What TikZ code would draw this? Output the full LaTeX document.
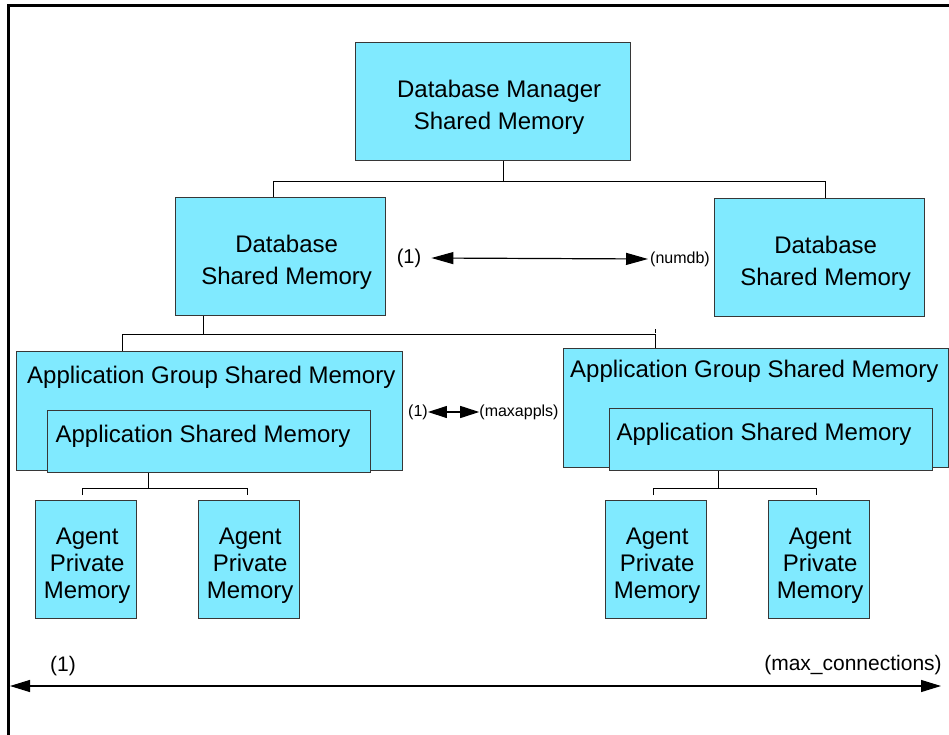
\documentclass[tikz,border=0pt]{standalone}
\usepackage{fontspec}
\setmainfont{Liberation Sans}
\usetikzlibrary{arrows.meta}
\definecolor{memfill}{RGB}{128,234,255}
\definecolor{edgegray}{RGB}{55,55,55}

\begin{document}
\begin{tikzpicture}[x=1pt,y=-1pt,
  membox/.style={draw=edgegray, line width=1.3pt, fill=memfill, inner sep=0pt,
    anchor=north west},
  agentbox/.style={membox, minimum width=101pt, minimum height=118pt},
  bigtext/.style={font=\fontsize{24}{32}\selectfont, inner sep=0pt, align=center},
  agenttext/.style={font=\fontsize{24}{27}\selectfont, inner sep=0pt, align=center},
  note/.style={font=\fontsize{16}{18}\selectfont, inner sep=0pt},
  midnote/.style={font=\fontsize{21}{24}\selectfont, inner sep=0pt},
  link/.style={draw=black, line width=1.1pt},
  wide arrow/.style={line width=1.2pt,
    {Triangle[length=22pt,width=12pt]}-{Triangle[length=22pt,width=12pt]}},
  short arrow/.style={line width=1.1pt,
    {Triangle[length=19pt,width=12pt]}-{Triangle[length=19pt,width=12pt]}},
]
\useasboundingbox (0,0) rectangle (949,735);

% outer frame (top and left edges)
\draw[line width=3pt] (8,735) -- (8,6) -- (949,6);

% database manager level
\node[membox, minimum width=275pt, minimum height=118pt] (dbm) at (355,42) {};
\node[bigtext] (dbmt) at ([xshift=6pt,yshift=-6pt]dbm.center) {Database Manager\\Shared Memory};

% database level
\node[membox, minimum width=210pt, minimum height=118pt] (db1) at (175,197) {};
\node[membox, minimum width=210pt, minimum height=118pt] (db2) at (714,198) {};
\node[bigtext] (db1t) at ([xshift=6pt,yshift=-6pt]db1.center) {Database\\Shared Memory};
\node[bigtext] (db2t) at ([xshift=6pt,yshift=-6pt]db2.center) {Database\\Shared Memory};

\draw[link] ([xshift=10pt]dbm.south) -- ++(0,20) coordinate (bus1);
\draw[link] ([xshift=-7pt]db1.north) |- (bus1) -| ([xshift=6pt]db2.north);

% numdb multiplicity
\node[font=\fontsize{20}{24}\selectfont, inner sep=0pt] (nd1) at (409,258) {(1)};
\node[note] (ndn) at (680,259) {(numdb)};
\draw[wide arrow] ([xshift=10pt]nd1.east) -- ([xshift=-2pt]ndn.west);

% application group level
\node[membox, minimum width=386pt, minimum height=119pt] (ag1) at (16,351) {};
\node[membox, minimum width=385pt, minimum height=119pt] (ag2) at (563,348) {};
\node[bigtext, anchor=west] (agl1) at (27,377) {Application Group Shared Memory};
\node[bigtext, anchor=west] (agl2) at (570,371) {Application Group Shared Memory};

\node[membox, minimum width=323pt, minimum height=62pt] (as1) at (47,410) {};
\node[membox, minimum width=323pt, minimum height=62pt] (as2) at (609,408) {};
\node[bigtext] (asl1) at (203,436) {Application Shared Memory};
\node[bigtext] (asl2) at (764,434) {Application Shared Memory};

\draw[link] ([xshift=-77pt]db1.south) -- ++(0,18) coordinate (bus2);
\draw[link] ([xshift=-87pt]ag1.north) |- (bus2) -| ([xshift=-100.5pt]ag2.north);
\draw[link] ([xshift=-100.5pt]ag2.north) ++(0,-15) coordinate (tick) -- ++(0,-4);

% maxappls multiplicity
\node[note] (ma1) at (418,412) {(1)};
\node[note] (man) at (519,412) {(maxappls)};
\draw[short arrow] (ma1.east) -- (man.west);

% agent level
\node[agentbox] (a1) at (35,500) {};
\node[agentbox] (a2) at (198,500) {};
\node[agentbox] (a3) at (605,500) {};
\node[agentbox] (a4) at (768,500) {};
\node[agenttext] (a1t) at ([xshift=1pt,yshift=-6pt]a1.center) {Agent\\Private\\Memory};
\node[agenttext] (a2t) at ([xshift=1pt,yshift=-6pt]a2.center) {Agent\\Private\\Memory};
\node[agenttext] (a3t) at ([xshift=1pt,yshift=-6pt]a3.center) {Agent\\Private\\Memory};
\node[agenttext] (a4t) at ([xshift=1pt,yshift=-6pt]a4.center) {Agent\\Private\\Memory};

\draw[link] ([xshift=-60.5pt]as1.south) -- ++(0,15) coordinate (bus3);
\draw[link] ([xshift=-3.5pt,yshift=5pt]a1.north) |- (bus3) -| ([xshift=-2pt,yshift=5pt]a2.north);
\draw[link] ([xshift=-52.5pt]as2.south) -- ++(0,17) coordinate (bus4);
\draw[link] ([xshift=-2.5pt,yshift=5pt]a3.north) |- (bus4) -| ([xshift=-2.5pt,yshift=5pt]a4.north);

% max_connections multiplicity
\node[midnote] (mc1) at (63,666) {(1)};
\node[midnote] (mcn) at (853,665) {(max\_connections)};
\coordinate (mcL) at (10,686);
\coordinate (mcR) at (941,686);
\draw[line width=1.2pt, {Triangle[length=20pt,width=12pt]}-{Triangle[length=20pt,width=12pt]}] (mcL) -- (mcR);
\end{tikzpicture}
\end{document}
